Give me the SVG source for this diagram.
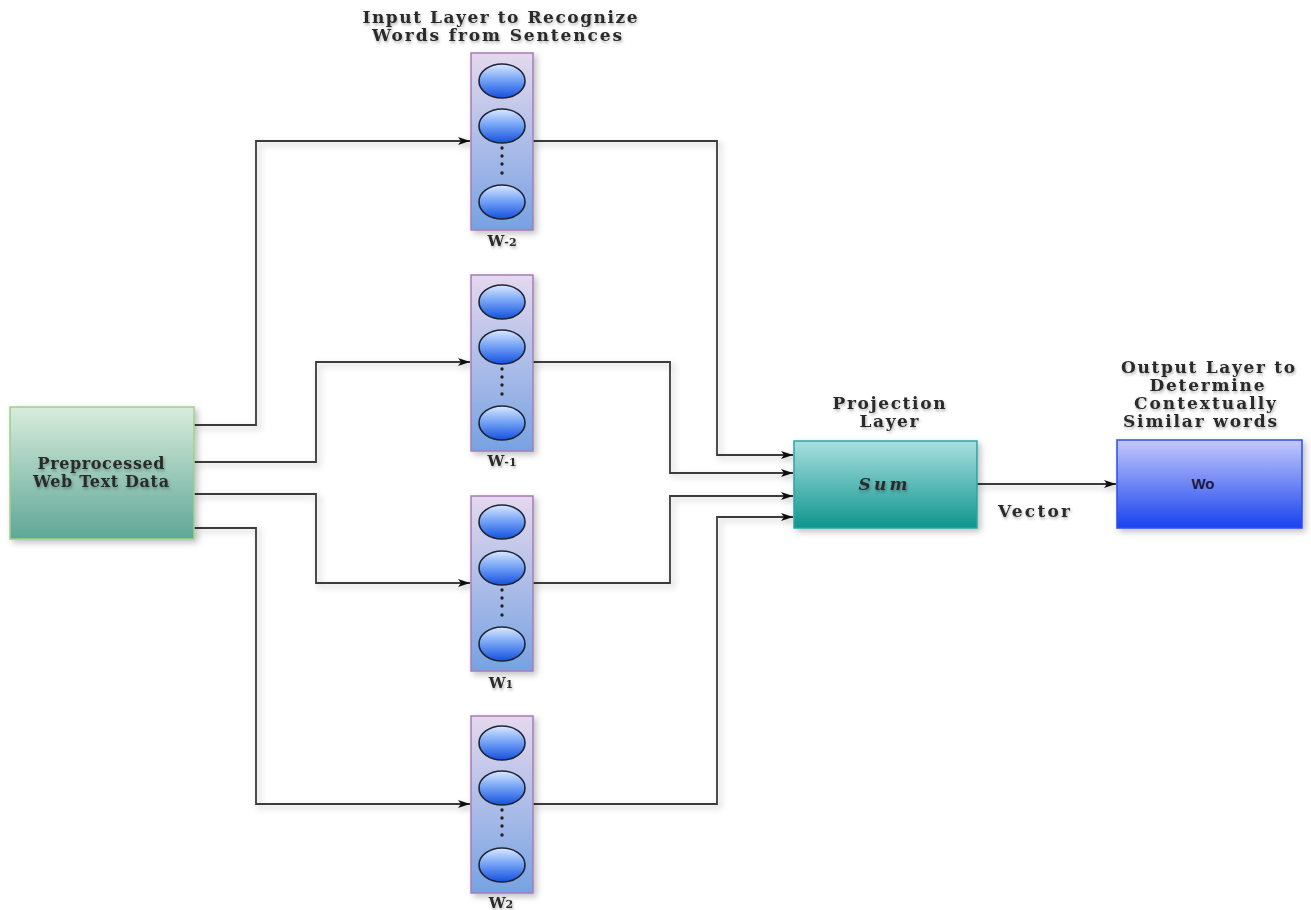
<svg xmlns="http://www.w3.org/2000/svg" width="1311" height="910" viewBox="0 0 1311 910">
<defs>
<linearGradient id="gCol" x1="0" y1="0" x2="0" y2="1"><stop offset="0" stop-color="#e4d8ee"/><stop offset="1" stop-color="#76a2e2"/></linearGradient>
<linearGradient id="gCirc" x1="0" y1="0" x2="0" y2="1"><stop offset="0" stop-color="#dbe8ff"/><stop offset="0.45" stop-color="#78a6f6"/><stop offset="1" stop-color="#1550e0"/></linearGradient>
<linearGradient id="gPre" x1="0" y1="0" x2="0" y2="1"><stop offset="0" stop-color="#d8ecdc"/><stop offset="1" stop-color="#5ea797"/></linearGradient>
<linearGradient id="gProj" x1="0" y1="0" x2="0" y2="1"><stop offset="0" stop-color="#a9dfdf"/><stop offset="1" stop-color="#0e958e"/></linearGradient>
<linearGradient id="gOut" x1="0" y1="0" x2="0" y2="1"><stop offset="0" stop-color="#c4c9fb"/><stop offset="1" stop-color="#1942ee"/></linearGradient>
<filter id="sh" x="-10%" y="-10%" width="130%" height="130%"><feDropShadow dx="3" dy="3" stdDeviation="3" flood-color="#000" flood-opacity="0.25"/></filter>
<filter id="tsh" x="-10%" y="-30%" width="120%" height="180%"><feDropShadow dx="1" dy="2" stdDeviation="1.5" flood-color="#000" flood-opacity="0.3"/></filter>
<marker id="arr" viewBox="0 0 12 10" refX="12" refY="5" markerWidth="12" markerHeight="10" markerUnits="userSpaceOnUse" orient="auto"><path d="M0,1 L12,5 L0,9 L3,5 Z" fill="#111"/></marker>
</defs>
<style>
.col{fill:url(#gCol);stroke:#a77cb8;stroke-width:1.5}
.c{fill:url(#gCirc);stroke:#1e2433;stroke-width:1.6}
.dot{fill:#222}
.t{font-family:"DejaVu Serif","Liberation Serif",serif;font-weight:bold;font-size:17px;fill:#2a2a2a;text-anchor:middle}
.m{font-size:16px}
.w{font-size:15px}
.conn{fill:none;stroke:#3a3a3a;stroke-width:1.8;marker-end:url(#arr)}
.sub{font-size:11px}
</style>
<rect width="1311" height="910" fill="#fff"/>

<g id="connectors" filter="url(#sh)">
<path class="conn" d="M194,425 H256 V141 H470"/>
<path class="conn" d="M194,462 H316 V362 H470"/>
<path class="conn" d="M194,494 H316 V583 H470"/>
<path class="conn" d="M194,528 H256 V804 H470"/>
<path class="conn" d="M533,141 H717 V455 H793"/>
<path class="conn" d="M533,362 H670 V473 H793"/>
<path class="conn" d="M533,583 H670 V496 H793"/>
<path class="conn" d="M533,804 H717 V517 H793"/>
<path class="conn" d="M977,484 H1116"/>
</g>

<g id="title-input"><text class="t" x="500" y="23" textLength="275" lengthAdjust="spacing" filter="url(#tsh)">Input Layer to Recognize</text><text class="t" x="497" y="41" textLength="250" lengthAdjust="spacing" filter="url(#tsh)">Words from Sentences</text></g>

<g id="preprocessed">
<rect x="10" y="407" width="184" height="132" fill="url(#gPre)" stroke="#9fd08a" stroke-width="1.5" filter="url(#sh)"/>
<text class="t m" x="101" y="469" textLength="127" lengthAdjust="spacing" filter="url(#tsh)">Preprocessed</text>
<text class="t m" x="101" y="487" textLength="136" lengthAdjust="spacing" filter="url(#tsh)">Web Text Data</text>
</g>

<g id="w-2">
<rect class="col" x="471" y="53" width="62" height="177" filter="url(#sh)"/>
<ellipse class="c" cx="502" cy="81" rx="23" ry="17"/>
<ellipse class="c" cx="502" cy="126" rx="23" ry="17"/>
<circle class="dot" cx="502" cy="148" r="1.7"/><circle class="dot" cx="502" cy="156" r="1.7"/><circle class="dot" cx="502" cy="164" r="1.7"/><circle class="dot" cx="502" cy="173" r="1.7"/>
<ellipse class="c" cx="502" cy="202" rx="23" ry="17"/>
<text class="t w" x="502" y="246" filter="url(#tsh)">W<tspan class="sub">-2</tspan></text>
</g>

<g id="w-1">
<rect class="col" x="471" y="275" width="62" height="176" filter="url(#sh)"/>
<ellipse class="c" cx="502" cy="302" rx="23" ry="17"/>
<ellipse class="c" cx="502" cy="347" rx="23" ry="17"/>
<circle class="dot" cx="502" cy="369" r="1.7"/><circle class="dot" cx="502" cy="377" r="1.7"/><circle class="dot" cx="502" cy="385" r="1.7"/><circle class="dot" cx="502" cy="394" r="1.7"/>
<ellipse class="c" cx="502" cy="423" rx="23" ry="17"/>
<text class="t w" x="502" y="466" filter="url(#tsh)">W<tspan class="sub">-1</tspan></text>
</g>

<g id="w1">
<rect class="col" x="471" y="496" width="62" height="175" filter="url(#sh)"/>
<ellipse class="c" cx="502" cy="522" rx="23" ry="17"/>
<ellipse class="c" cx="502" cy="568" rx="23" ry="17"/>
<circle class="dot" cx="502" cy="590" r="1.7"/><circle class="dot" cx="502" cy="598" r="1.7"/><circle class="dot" cx="502" cy="606" r="1.7"/><circle class="dot" cx="502" cy="615" r="1.7"/>
<ellipse class="c" cx="502" cy="644" rx="23" ry="17"/>
<text class="t w" x="501" y="688" filter="url(#tsh)">W<tspan class="sub">1</tspan></text>
</g>

<g id="w2">
<rect class="col" x="471" y="716" width="62" height="177" filter="url(#sh)"/>
<ellipse class="c" cx="502" cy="743" rx="23" ry="17"/>
<ellipse class="c" cx="502" cy="788" rx="23" ry="17"/>
<circle class="dot" cx="502" cy="810" r="1.7"/><circle class="dot" cx="502" cy="818" r="1.7"/><circle class="dot" cx="502" cy="826" r="1.7"/><circle class="dot" cx="502" cy="835" r="1.7"/>
<ellipse class="c" cx="502" cy="865" rx="23" ry="17"/>
<text class="t w" x="501" y="908" filter="url(#tsh)">W<tspan class="sub">2</tspan></text>
</g>

<g id="projection">
<text class="t" x="889" y="409" textLength="113" lengthAdjust="spacing" filter="url(#tsh)">Projection</text>
<text class="t" x="889" y="427" textLength="59" lengthAdjust="spacing" filter="url(#tsh)">Layer</text>
<rect x="794" y="441" width="183" height="87" fill="url(#gProj)" stroke="#2aa5a5" stroke-width="1.5" filter="url(#sh)"/>
<text class="t" x="883" y="490" font-style="italic" font-size="18" textLength="49" lengthAdjust="spacing" filter="url(#tsh)">Sum</text>
</g>

<g id="vector-label"><text class="t" x="1034" y="517" textLength="72" lengthAdjust="spacing" filter="url(#tsh)">Vector</text></g>

<g id="output">
<text class="t" x="1208" y="373" textLength="174" lengthAdjust="spacing" filter="url(#tsh)">Output Layer  to</text>
<text class="t" x="1207" y="391" textLength="115" lengthAdjust="spacing" filter="url(#tsh)">Determine</text>
<text class="t" x="1205" y="409" textLength="142" lengthAdjust="spacing" filter="url(#tsh)">Contextually</text>
<text class="t" x="1200" y="427" textLength="154" lengthAdjust="spacing" filter="url(#tsh)">Similar words</text>
<rect x="1117" y="440" width="185" height="88" fill="url(#gOut)" stroke="#2a4ef0" stroke-width="1.5" filter="url(#sh)"/>
<text x="1203" y="489" font-family="'Liberation Sans',Arial,sans-serif" font-weight="bold" font-size="15" fill="#1a1a40" text-anchor="middle">Wo</text>
</g>
</svg>
